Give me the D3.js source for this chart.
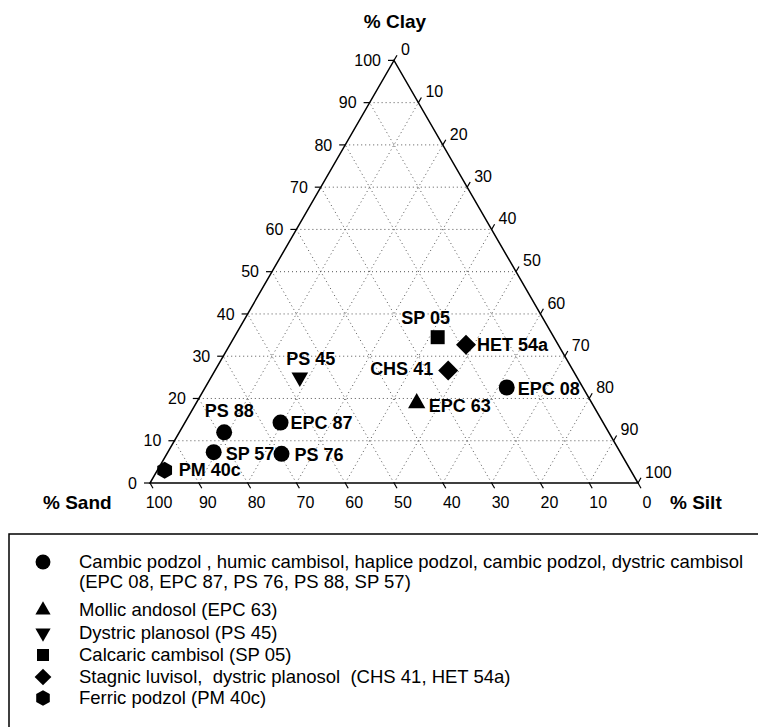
<!DOCTYPE html>
<html>
<head>
<meta charset="utf-8">
<script src="https://cdn.jsdelivr.net/npm/d3@7"></script>
<style>
  body { margin: 0; background: #fff; }
  svg { display: block; font-family: "Liberation Sans", Arial, sans-serif; }
  text { white-space: pre; }
</style>
</head>
<body>
<script>
// soil texture of the sampled profiles, in percent
const samples = ['PM 40c', 'SP 57', 'PS 88', 'EPC 87', 'PS 76', 'PS 45', 'SP 05', 'HET 54a', 'CHS 41', 'EPC 08', 'EPC 63'];
const sand = [95.5, 83.3, 78.8, 66.1, 69.6, 56.8, 23.8, 18.9, 25.6, 15.6, 35.9];
const silt = [1.5, 9.4, 9.2, 19.6, 23.5, 18.2, 41.7, 48.4, 47.8, 61.8, 45.2];
const clay = [3.0, 7.3, 12.0, 14.3, 6.9, 25.0, 34.5, 32.7, 26.6, 22.6, 18.9];
const soilGroup = ['hexagon', 'circle', 'circle', 'circle', 'circle', 'triangleDown', 'square', 'diamond', 'diamond', 'circle', 'triangle'];

const tickValues = [0, 10, 20, 30, 40, 50, 60, 70, 80, 90, 100];

const legendItems = [
  { shape: 'circle', lines: ['Cambic podzol , humic cambisol, haplice podzol, cambic podzol, dystric cambisol', '(EPC 08, EPC 87, PS 76, PS 88, SP 57)'] },
  { shape: 'triangle', lines: ['Mollic andosol (EPC 63)'] },
  { shape: 'triangleDown', lines: ['Dystric planosol (PS 45)'] },
  { shape: 'square', lines: ['Calcaric cambisol (SP 05)'] },
  { shape: 'diamond', lines: ['Stagnic luvisol,  dystric planosol  (CHS 41, HET 54a)'] },
  { shape: 'hexagon', lines: ['Ferric podzol (PM 40c)'] },
];

// label placement next to each marker: [dx, dy, anchor]
const labelOffset = {
  'PM 40c': [14, 6, 'start'],
  'SP 57': [12, 8, 'start'],
  'PS 88': [5, -15, 'middle'],
  'EPC 87': [10, 6, 'start'],
  'PS 76': [13, 7, 'start'],
  'PS 45': [11, -12, 'middle'],
  'SP 05': [-12, -13, 'middle'],
  'HET 54a': [11, 6, 'start'],
  'CHS 41': [-15, 4, 'end'],
  'EPC 08': [11, 8, 'start'],
  'EPC 63': [12, 9, 'start'],
};

const width = 758;
const height = 727;

const left = 150;
const base = 483;
const side = 488;
const tri = side * Math.sqrt(3) / 2;

// fraction scales for the two free components
const sx = d3.scaleLinear().domain([0, 100]).range([0, side]);
const sy = d3.scaleLinear().domain([0, 100]).range([0, tri]);

function pos(sa, si, cl) {
  const tot = sa + si + cl;
  const s = si / tot * 100;
  const c = cl / tot * 100;
  return [left + sx(s) + sx(c) / 2, base - sy(c)];
}

const hexagon = {
  draw(ctx, size) {
    const r = Math.sqrt(size / (1.5 * Math.sqrt(3)));
    for (let i = 0; i < 6; i++) {
      const a = Math.PI / 2 + i * Math.PI / 3;
      const x = r * Math.cos(a), y = r * Math.sin(a);
      if (i === 0) ctx.moveTo(x, y); else ctx.lineTo(x, y);
    }
    ctx.closePath();
  }
};

const shapes = {
  circle: { type: d3.symbolCircle, size: 200, rot: 0 },
  triangle: { type: d3.symbolTriangle, size: 130, rot: 0 },
  triangleDown: { type: d3.symbolTriangle, size: 120, rot: 180 },
  square: { type: d3.symbolSquare, size: 196, rot: 0 },
  diamond: { type: d3.symbolSquare, size: 200, rot: 45 },
  hexagon: { type: hexagon, size: 190, rot: 0 },
};

const legendShapes = {
  circle: 175, triangle: 100, triangleDown: 100, square: 145, diamond: 140, hexagon: 160,
};

const svg = d3.select('body').append('svg')
  .attr('width', width)
  .attr('height', height);

// dotted grid
const grid = svg.append('g')
  .attr('stroke', '#555')
  .attr('stroke-width', 1)
  .attr('stroke-dasharray', '1,3')
  .attr('fill', 'none');

tickValues.slice(1, -1).forEach(v => {
  // constant clay
  let a = pos(100 - v, 0, v), b = pos(0, 100 - v, v);
  grid.append('line').attr('x1', a[0]).attr('y1', a[1]).attr('x2', b[0]).attr('y2', b[1]);
  // constant silt
  a = pos(100 - v, v, 0); b = pos(0, v, 100 - v);
  grid.append('line').attr('x1', a[0]).attr('y1', a[1]).attr('x2', b[0]).attr('y2', b[1]);
  // constant sand
  a = pos(v, 100 - v, 0); b = pos(v, 0, 100 - v);
  grid.append('line').attr('x1', a[0]).attr('y1', a[1]).attr('x2', b[0]).attr('y2', b[1]);
});

// frame
const corners = [pos(100, 0, 0), pos(0, 100, 0), pos(0, 0, 100)];
svg.append('path')
  .attr('d', d3.line()(corners) + 'Z')
  .attr('fill', 'none')
  .attr('stroke', '#000')
  .attr('stroke-width', 1.5);

const ticks = svg.append('g').attr('stroke', '#000').attr('stroke-width', 1.2);
const tickText = svg.append('g').attr('font-size', 16).attr('fill', '#000');
const tl = 6;
const c60 = Math.cos(Math.PI / 3), s60 = Math.sin(Math.PI / 3);

tickValues.forEach(v => {
  // clay, left side
  let p = pos(100 - v, 0, v);
  ticks.append('line').attr('x1', p[0]).attr('y1', p[1]).attr('x2', p[0] - tl).attr('y2', p[1]);
  tickText.append('text').attr('x', p[0] - 13).attr('y', p[1]).attr('dy', '0.35em')
    .attr('text-anchor', 'end').text(v);

  // sand, bottom
  p = pos(v, 100 - v, 0);
  ticks.append('line').attr('x1', p[0]).attr('y1', p[1]).attr('x2', p[0] + tl * c60).attr('y2', p[1] + tl * s60);
  tickText.append('text').attr('x', p[0] + 9).attr('y', p[1] + 19).attr('dy', '0.35em')
    .attr('text-anchor', 'middle').text(v);

  // silt, right side
  p = pos(0, v, 100 - v);
  ticks.append('line').attr('x1', p[0]).attr('y1', p[1]).attr('x2', p[0] + tl * c60).attr('y2', p[1] - tl * s60);
  tickText.append('text').attr('x', p[0] + 7).attr('y', p[1] - 11).attr('dy', '0.35em')
    .attr('text-anchor', 'start').text(v);
});

// axis titles
const titles = svg.append('g').attr('font-size', 19).attr('font-weight', 'bold');
titles.append('text').attr('x', 395).attr('y', 28).attr('text-anchor', 'middle').text('% Clay');
titles.append('text').attr('x', 43).attr('y', 509).text('% Sand');
titles.append('text').attr('x', 670).attr('y', 509).text('% Silt');

// samples
const pts = samples.map((name, i) => {
  const p = pos(sand[i], silt[i], clay[i]);
  return { name, shape: soilGroup[i], x: p[0], y: p[1] };
});

svg.append('g').selectAll('path')
  .data(pts)
  .enter().append('path')
    .attr('d', d => d3.symbol().type(shapes[d.shape].type).size(shapes[d.shape].size)())
    .attr('transform', d => `translate(${d.x},${d.y}) rotate(${shapes[d.shape].rot})`)
    .attr('fill', '#000');

svg.append('g').attr('font-size', 18).attr('font-weight', 'bold')
  .selectAll('text')
  .data(pts)
  .enter().append('text')
    .attr('x', d => d.x + labelOffset[d.name][0])
    .attr('y', d => d.y + labelOffset[d.name][1])
    .attr('text-anchor', d => labelOffset[d.name][2])
    .text(d => d.name);

// legend
svg.append('rect')
  .attr('x', 9).attr('y', 534)
  .attr('width', 820).attr('height', 300)
  .attr('fill', 'none')
  .attr('stroke', '#000')
  .attr('stroke-width', 1.5);

const rowY = [562, 610, 633, 655, 677, 698];
const legend = svg.append('g').attr('font-size', 18.5);

legendItems.forEach((item, i) => {
  const s = shapes[item.shape];
  legend.append('path')
    .attr('d', d3.symbol().type(s.type).size(legendShapes[item.shape])())
    .attr('transform', `translate(43,${rowY[i]}) rotate(${s.rot})`)
    .attr('fill', '#000');
  item.lines.forEach((line, j) => {
    legend.append('text')
      .attr('x', 79)
      .attr('y', rowY[i] + j * 20)
      .attr('dy', '0.35em')
      .text(line);
  });
});
</script>
</body>
</html>
